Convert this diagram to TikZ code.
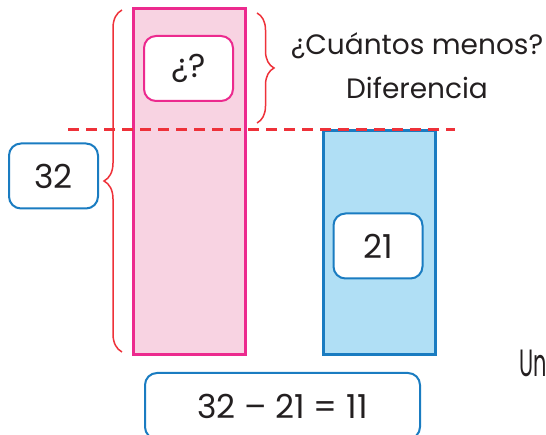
\documentclass[tikz,border=0pt]{standalone}
\usepackage{fontspec}
\setmainfont{Poppins}
\newfontfamily\estrecha[FakeStretch=0.55]{Poppins}
\usetikzlibrary{positioning, decorations.pathreplacing}
\definecolor{rosaborde}{HTML}{EC2A8E}
\definecolor{rosafondo}{HTML}{F8D3E2}
\definecolor{azulborde}{HTML}{1A7CC1}
\definecolor{azulfondo}{HTML}{B0DFF5}
\definecolor{rojo}{HTML}{EE3139}
\definecolor{texto}{HTML}{231F20}
\begin{document}
\begin{tikzpicture}[
	x=1pt, y=-1pt,
	barra/.style={
		rectangle,
		line width=3pt,
		inner sep=0pt,
		minimum width=112pt
	},
	caja/.style={
		rectangle,
		rounded corners=12pt,
		line width=2pt,
		fill=white,
		minimum width=89pt,
		minimum height=65pt,
		text=texto,
		font=\fontsize{33}{36}\selectfont
	},
	llave/.style={
		decorate,
		decoration={brace, amplitude=17pt},
		draw=rojo,
		line width=1.5pt
	},
	guia/.style={
		draw=rojo,
		line width=3pt,
		dash pattern=on 11pt off 7pt
	}
	]
	\useasboundingbox (0,0) rectangle (546,435);
	\clip (0,0) rectangle (546,435);
	% barras
	\node[barra, draw=rosaborde, fill=rosafondo, minimum height=346pt] (mayor) at (189,182) {};
	\node[barra, draw=azulborde, fill=azulfondo, minimum height=224pt] (menor) at (379,243) {};
	% cajas
	\node[caja, draw=rosaborde] (duda) at (188.5,68.5) {¿?};
	\node[caja, draw=azulborde] (resta) at (378,246) {21};
	\node[caja, draw=azulborde] (total) at (53.5,176) {32};
	\node[caja, draw=azulborde, minimum width=275pt, minimum height=66pt] (cuenta) at (282.5,406)
	{32 – 21 = 11};
	% linea de referencia
	\coordinate (guiaA) at (68,130);
	\coordinate (guiaB) at (455,130);
	\draw[guia] (guiaA) -- (guiaB);
	% llaves
	\coordinate (llaveA) at (122,352);
	\coordinate (llaveB) at (122,10);
	\draw[llave, decoration={amplitude=18pt}] (llaveA) -- (llaveB);
	\coordinate (llaveC) at (257,13);
	\coordinate (llaveD) at (257,123);
	\draw[llave] (llaveC) -- (llaveD);
	% textos
	\node[
	text=texto,
	align=center,
	font=\fontsize{28}{44}\selectfont
	] (pregunta) at (417,66)
	{¿Cuántos menos?\\Diferencia};
	\node[
	text=texto,
	anchor=base west,
	inner sep=0pt,
	font=\estrecha\fontsize{38}{40}\selectfont
	] (un) at (519,377) {Un};
\end{tikzpicture}
\end{document}
